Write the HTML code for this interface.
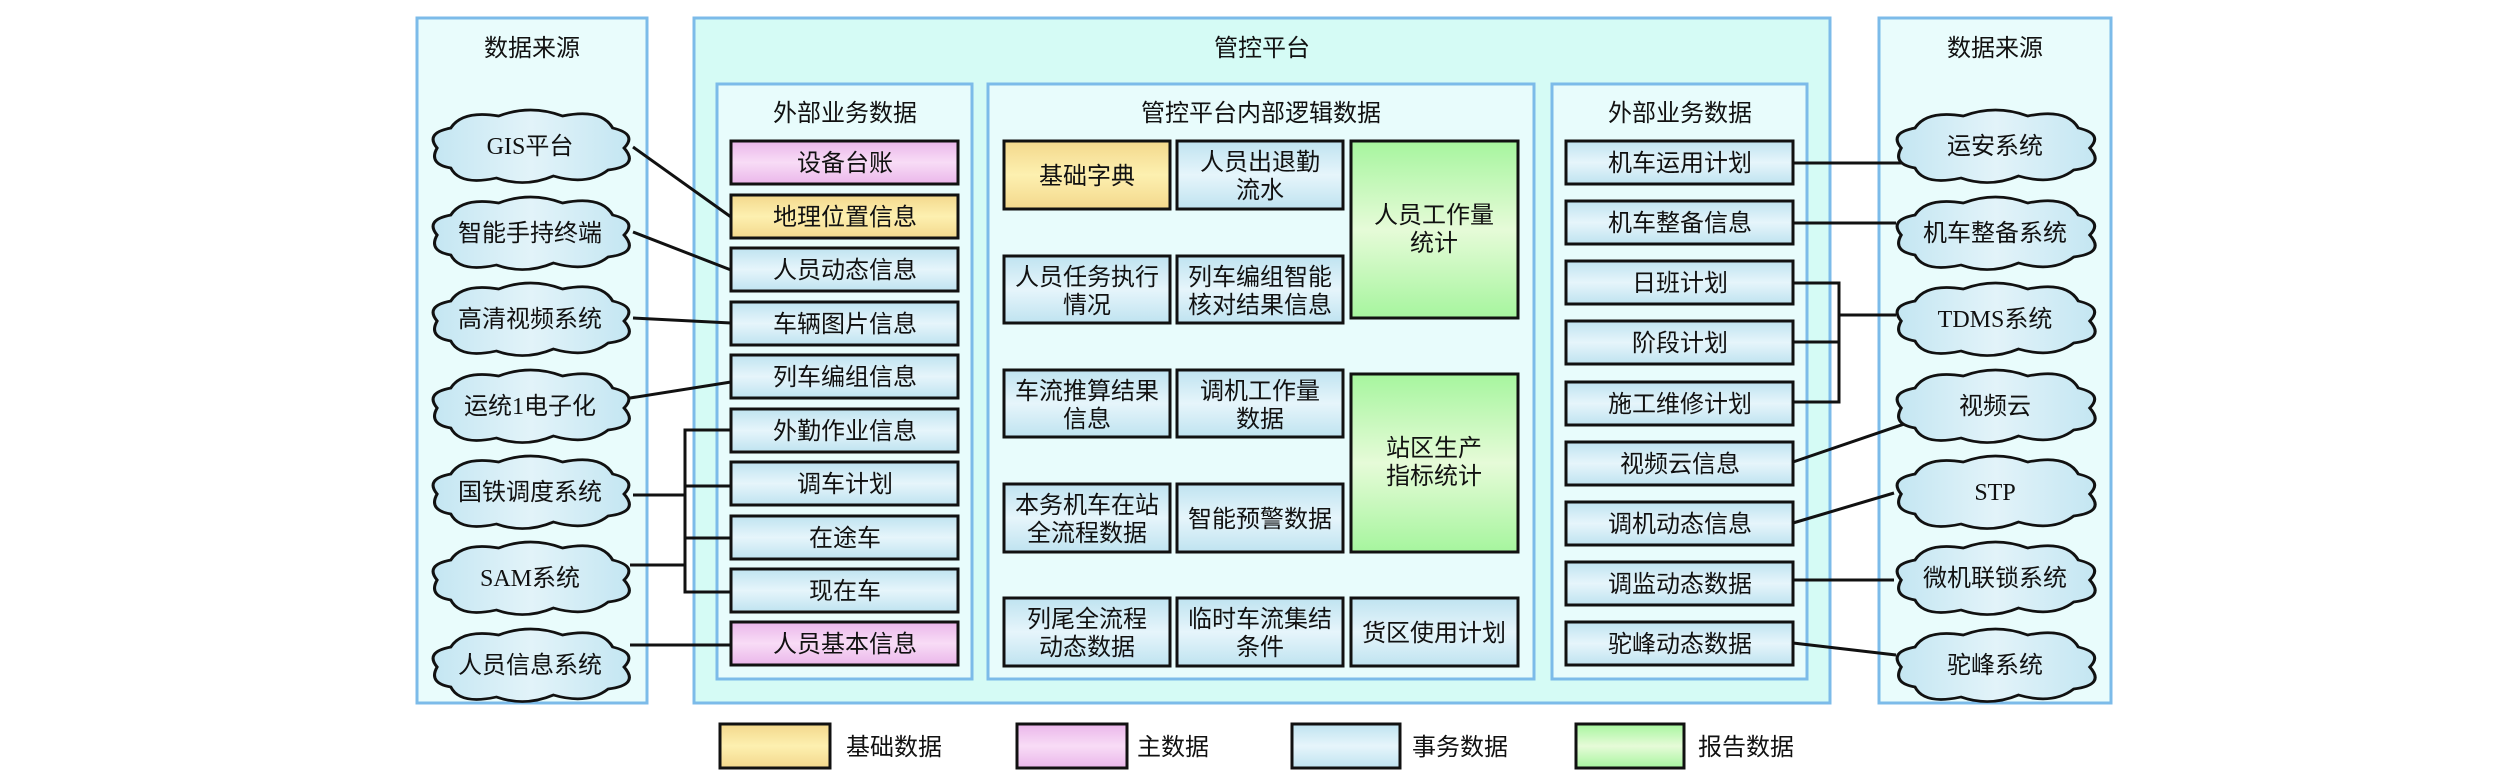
<!DOCTYPE html>
<html><head><meta charset="utf-8"><style>
html,body{margin:0;padding:0;background:#fff;}
svg{display:block;}
text{font-family:"Liberation Serif","Noto Sans CJK SC",serif;font-size:24px;fill:#111;}
</style></head><body>
<svg width="2520" height="776" viewBox="0 0 2520 776" xmlns="http://www.w3.org/2000/svg">
<defs>
<linearGradient id="gb" x1="0" y1="0" x2="0" y2="1"><stop offset="0" stop-color="#bfe3f0"/><stop offset="0.5" stop-color="#e6f5fb"/><stop offset="1" stop-color="#bfe3f0"/></linearGradient>
<linearGradient id="gy" x1="0" y1="0" x2="0" y2="1"><stop offset="0" stop-color="#f3d88c"/><stop offset="0.5" stop-color="#fdf0b0"/><stop offset="1" stop-color="#f3d88c"/></linearGradient>
<linearGradient id="gp" x1="0" y1="0" x2="0" y2="1"><stop offset="0" stop-color="#eab6ea"/><stop offset="0.5" stop-color="#f8dcf6"/><stop offset="1" stop-color="#eab6ea"/></linearGradient>
<linearGradient id="gg" x1="0" y1="0" x2="0" y2="1"><stop offset="0" stop-color="#a6f59e"/><stop offset="0.5" stop-color="#e6fbd8"/><stop offset="1" stop-color="#a6f59e"/></linearGradient>
<linearGradient id="gc" x1="0" y1="0" x2="1" y2="0"><stop offset="0" stop-color="#c4e6f2"/><stop offset="0.5" stop-color="#e2f3f9"/><stop offset="1" stop-color="#c4e6f2"/></linearGradient>
<path id="cloud" d="M20,20 Q30,2 62,8 Q90,-4 118,8 Q152,0 162,20 Q184,26 172,40 Q186,58 158,62 Q140,78 110,68 Q85,80 60,70 Q28,78 20,60 Q0,56 8,40 Q-3,25 20,20 Z" fill="url(#gc)" stroke="#111" stroke-width="2.7"/>
</defs>

<!-- panels -->
<rect x="417" y="18" width="230" height="685" fill="#e9fcfc" stroke="#7cbbe9" stroke-width="3"/>
<rect x="694" y="18" width="1136" height="685" fill="#d5fbf5" stroke="#7cbbe9" stroke-width="3"/>
<rect x="717" y="84" width="255" height="595" fill="#e8fcfc" stroke="#7cbbe9" stroke-width="3"/>
<rect x="988" y="84" width="546" height="595" fill="#e8fcfc" stroke="#7cbbe9" stroke-width="3"/>
<rect x="1552" y="84" width="255" height="595" fill="#e8fcfc" stroke="#7cbbe9" stroke-width="3"/>
<rect x="1879" y="18" width="232" height="685" fill="#e9fcfc" stroke="#7cbbe9" stroke-width="3"/>

<text x="532" y="56" text-anchor="middle">数据来源</text>
<text x="1262" y="56" text-anchor="middle">管控平台</text>
<text x="845" y="121" text-anchor="middle">外部业务数据</text>
<text x="1261" y="121" text-anchor="middle">管控平台内部逻辑数据</text>
<text x="1680" y="121" text-anchor="middle">外部业务数据</text>
<text x="1995" y="56" text-anchor="middle">数据来源</text>

<!-- connectors -->
<g stroke="#111" stroke-width="3" fill="none">
<line x1="633" y1="147" x2="731" y2="217"/>
<line x1="633" y1="232" x2="731" y2="270"/>
<line x1="633" y1="318" x2="731" y2="323"/>
<line x1="630" y1="398" x2="731" y2="382"/>
<polyline points="731,430 685,430 685,592 731,592"/>
<line x1="685" y1="486" x2="731" y2="486"/>
<line x1="685" y1="538" x2="731" y2="538"/>
<line x1="633" y1="495" x2="685" y2="495"/>
<line x1="630" y1="565" x2="685" y2="565"/>
<line x1="630" y1="645" x2="731" y2="645"/>
<line x1="1793" y1="163" x2="1910" y2="163"/>
<line x1="1793" y1="223" x2="1896" y2="223"/>
<polyline points="1793,283 1839,283 1839,402 1793,402"/>
<line x1="1793" y1="342" x2="1839" y2="342"/>
<line x1="1839" y1="315" x2="1896" y2="315"/>
<line x1="1793" y1="462" x2="1910" y2="422"/>
<line x1="1793" y1="523" x2="1894" y2="493"/>
<line x1="1793" y1="580" x2="1894" y2="580"/>
<line x1="1793" y1="643" x2="1896" y2="655"/>
</g>

<!-- clouds left -->
<g>
<use href="#cloud" transform="translate(428,108) scale(1.14,1)"/><text x="530" y="154" text-anchor="middle">GIS平台</text>
<use href="#cloud" transform="translate(428,195) scale(1.14,1)"/><text x="530" y="241" text-anchor="middle">智能手持终端</text>
<use href="#cloud" transform="translate(428,281) scale(1.14,1)"/><text x="530" y="327" text-anchor="middle">高清视频系统</text>
<use href="#cloud" transform="translate(428,368) scale(1.14,1)"/><text x="530" y="414" text-anchor="middle">运统1电子化</text>
<use href="#cloud" transform="translate(428,454) scale(1.14,1)"/><text x="530" y="500" text-anchor="middle">国铁调度系统</text>
<use href="#cloud" transform="translate(428,540) scale(1.14,1)"/><text x="530" y="586" text-anchor="middle">SAM系统</text>
<use href="#cloud" transform="translate(428,627) scale(1.14,1)"/><text x="530" y="673" text-anchor="middle">人员信息系统</text>
</g>
<!-- clouds right -->
<g>
<use href="#cloud" transform="translate(1892,108) scale(1.15,1)"/><text x="1995" y="154" text-anchor="middle">运安系统</text>
<use href="#cloud" transform="translate(1892,195) scale(1.15,1)"/><text x="1995" y="241" text-anchor="middle">机车整备系统</text>
<use href="#cloud" transform="translate(1892,281) scale(1.15,1)"/><text x="1995" y="327" text-anchor="middle">TDMS系统</text>
<use href="#cloud" transform="translate(1892,368) scale(1.15,1)"/><text x="1995" y="414" text-anchor="middle">视频云</text>
<use href="#cloud" transform="translate(1892,454) scale(1.15,1)"/><text x="1995" y="500" text-anchor="middle">STP</text>
<use href="#cloud" transform="translate(1892,540) scale(1.15,1)"/><text x="1995" y="586" text-anchor="middle">微机联锁系统</text>
<use href="#cloud" transform="translate(1892,627) scale(1.15,1)"/><text x="1995" y="673" text-anchor="middle">驼峰系统</text>
</g>

<!-- left boxes -->
<g stroke="#111" stroke-width="3">
<rect x="731" y="141" width="227" height="43" fill="url(#gp)"/>
<rect x="731" y="195" width="227" height="43" fill="url(#gy)"/>
<rect x="731" y="248" width="227" height="43" fill="url(#gb)"/>
<rect x="731" y="302" width="227" height="43" fill="url(#gb)"/>
<rect x="731" y="355" width="227" height="43" fill="url(#gb)"/>
<rect x="731" y="409" width="227" height="43" fill="url(#gb)"/>
<rect x="731" y="462" width="227" height="43" fill="url(#gb)"/>
<rect x="731" y="516" width="227" height="43" fill="url(#gb)"/>
<rect x="731" y="569" width="227" height="43" fill="url(#gb)"/>
<rect x="731" y="622" width="227" height="43" fill="url(#gp)"/>
</g>
<g text-anchor="middle">
<text x="845" y="171">设备台账</text>
<text x="845" y="225">地理位置信息</text>
<text x="845" y="278">人员动态信息</text>
<text x="845" y="332">车辆图片信息</text>
<text x="845" y="385">列车编组信息</text>
<text x="845" y="439">外勤作业信息</text>
<text x="845" y="492">调车计划</text>
<text x="845" y="546">在途车</text>
<text x="845" y="599">现在车</text>
<text x="845" y="652">人员基本信息</text>
</g>

<!-- middle boxes -->
<g stroke="#111" stroke-width="3">
<rect x="1004" y="141" width="166" height="68" fill="url(#gy)"/>
<rect x="1177" y="141" width="166" height="68" fill="url(#gb)"/>
<rect x="1351" y="141" width="167" height="177" fill="url(#gg)"/>
<rect x="1004" y="256" width="166" height="67" fill="url(#gb)"/>
<rect x="1177" y="256" width="166" height="67" fill="url(#gb)"/>
<rect x="1004" y="370" width="166" height="67" fill="url(#gb)"/>
<rect x="1177" y="370" width="166" height="67" fill="url(#gb)"/>
<rect x="1351" y="374" width="167" height="178" fill="url(#gg)"/>
<rect x="1004" y="484" width="166" height="68" fill="url(#gb)"/>
<rect x="1177" y="484" width="166" height="68" fill="url(#gb)"/>
<rect x="1004" y="598" width="166" height="68" fill="url(#gb)"/>
<rect x="1177" y="598" width="166" height="68" fill="url(#gb)"/>
<rect x="1351" y="598" width="167" height="68" fill="url(#gb)"/>
</g>
<g text-anchor="middle">
<text x="1087" y="184">基础字典</text>
<text x="1260" y="170">人员出退勤</text><text x="1260" y="198">流水</text>
<text x="1434" y="223">人员工作量</text><text x="1434" y="251">统计</text>
<text x="1087" y="285">人员任务执行</text><text x="1087" y="313">情况</text>
<text x="1260" y="285">列车编组智能</text><text x="1260" y="313">核对结果信息</text>
<text x="1087" y="399">车流推算结果</text><text x="1087" y="427">信息</text>
<text x="1260" y="399">调机工作量</text><text x="1260" y="427">数据</text>
<text x="1434" y="456">站区生产</text><text x="1434" y="484">指标统计</text>
<text x="1087" y="513">本务机车在站</text><text x="1087" y="541">全流程数据</text>
<text x="1260" y="527">智能预警数据</text>
<text x="1087" y="627">列尾全流程</text><text x="1087" y="655">动态数据</text>
<text x="1260" y="627">临时车流集结</text><text x="1260" y="655">条件</text>
<text x="1434" y="641">货区使用计划</text>
</g>

<!-- right boxes -->
<g stroke="#111" stroke-width="3">
<rect x="1566" y="141" width="227" height="43" fill="url(#gb)"/>
<rect x="1566" y="201" width="227" height="43" fill="url(#gb)"/>
<rect x="1566" y="261" width="227" height="43" fill="url(#gb)"/>
<rect x="1566" y="321" width="227" height="43" fill="url(#gb)"/>
<rect x="1566" y="382" width="227" height="43" fill="url(#gb)"/>
<rect x="1566" y="442" width="227" height="43" fill="url(#gb)"/>
<rect x="1566" y="502" width="227" height="43" fill="url(#gb)"/>
<rect x="1566" y="562" width="227" height="43" fill="url(#gb)"/>
<rect x="1566" y="622" width="227" height="43" fill="url(#gb)"/>
</g>
<g text-anchor="middle">
<text x="1680" y="171">机车运用计划</text>
<text x="1680" y="231">机车整备信息</text>
<text x="1680" y="291">日班计划</text>
<text x="1680" y="351">阶段计划</text>
<text x="1680" y="412">施工维修计划</text>
<text x="1680" y="472">视频云信息</text>
<text x="1680" y="532">调机动态信息</text>
<text x="1680" y="592">调监动态数据</text>
<text x="1680" y="652">驼峰动态数据</text>
</g>

<!-- legend -->
<g stroke="#111" stroke-width="3">
<rect x="720" y="724" width="110" height="44" fill="url(#gy)"/>
<rect x="1017" y="724" width="110" height="44" fill="url(#gp)"/>
<rect x="1292" y="724" width="108" height="44" fill="url(#gb)"/>
<rect x="1576" y="724" width="108" height="44" fill="url(#gg)"/>
</g>
<text x="846" y="755">基础数据</text>
<text x="1137" y="755">主数据</text>
<text x="1412" y="755">事务数据</text>
<text x="1698" y="755">报告数据</text>
</svg>
</body></html>
